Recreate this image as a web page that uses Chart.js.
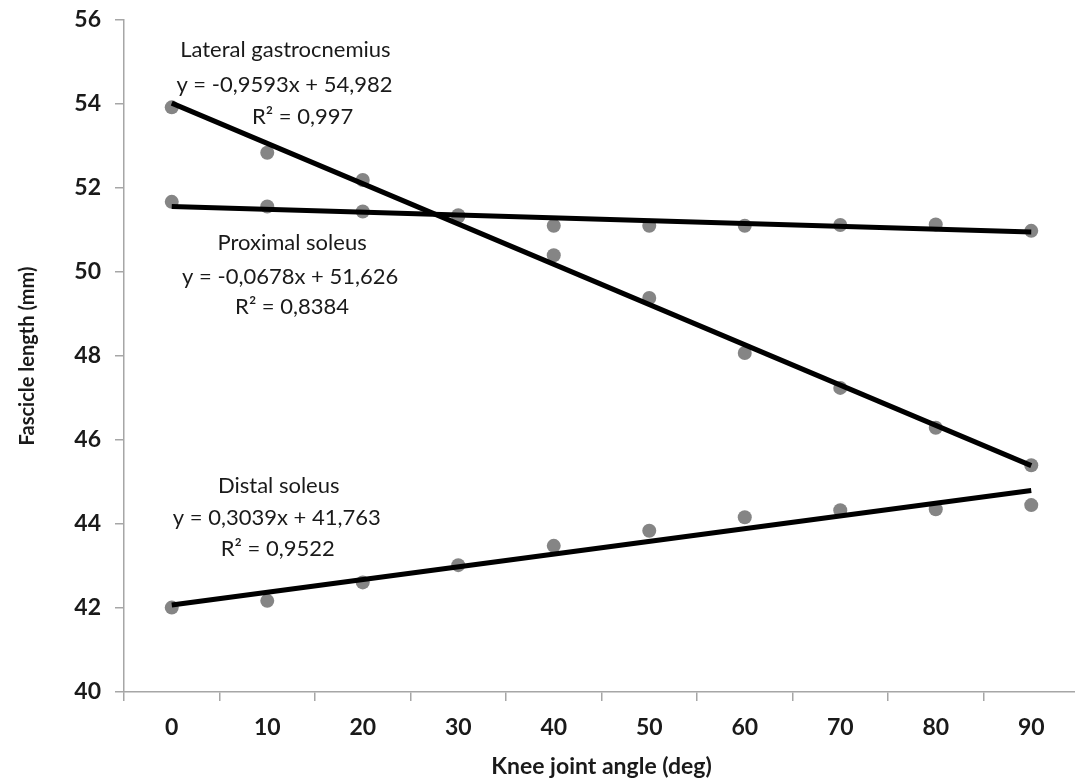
<!DOCTYPE html>
<html>
<head>
<meta charset="utf-8">
<script src="https://cdn.jsdelivr.net/npm/chart.js@4/dist/chart.umd.min.js"></script>
<style>
  html, body { margin: 0; padding: 0; background: #fff; overflow: hidden; }
  #wrap { width: 1086px; height: 783px; }
</style>
</head>
<body>
<div id="wrap"><canvas id="chart"></canvas></div>
<script>
// knee angle categories (deg)
var angles = ['0', '10', '20', '30', '40', '50', '60', '70', '80', '90']

var lateralGastroc = [53.92, 52.84, 52.19, 51.32, 50.40, 49.38, 48.07, 47.24, 46.29, 45.40]
var proximalSoleus = [51.67, 51.56, 51.44, 51.35, 51.10, 51.10, 51.10, 51.12, 51.13, 50.98]
var distalSoleus   = [42.01, 42.17, 42.61, 43.02, 43.48, 43.84, 44.16, 44.33, 44.35, 44.45]

// linear trend lines: value at first and last angle
var lateralTrend  = [54.02, 45.39]
var proximalTrend = [51.56, 50.95]
var distalTrend   = [42.07, 44.80]

var yTicks = [40, 42, 44, 46, 48, 50, 52, 54, 56]

var
    axisGray  = '#a6a6a6'
  , pointGray = '#858585'
  , textColor = '#1a1a1a'
  , fontName  = 'Lato, "Open Sans", sans-serif'

var trendData = function (ends) {
  return [
      { x: angles[0], y: ends[0] }
    , { x: angles[angles.length - 1], y: ends[1] }
  ]
}

var pointSet = function (values) {
  return {
      type            : 'line'
    , data            : values
    , showLine        : false
    , pointRadius     : 7
    , pointHoverRadius: 7
    , pointBackgroundColor : pointGray
    , pointBorderWidth: 0
    , borderColor     : pointGray
    , order           : 2
  }
}

var trendSet = function (ends) {
  return {
      type        : 'line'
    , data        : trendData(ends)
    , borderColor : '#000'
    , borderWidth : 5
    , pointRadius : 0
    , tension     : 0
    , order       : 1
  }
}

// equation labels, placed in axis units (category index, mm)
var notes = [
    { text: 'Lateral gastrocnemius',  at: [1.19, 55.29] }
  , { text: 'y = -0,9593x + 54,982',  at: [1.18, 54.45] }
  , { text: 'R\u00b2 = 0,997',        at: [1.37, 53.69] }
  , { text: 'Proximal soleus',        at: [1.26, 50.69] }
  , { text: 'y = -0,0678x + 51,626',  at: [1.24, 49.88] }
  , { text: 'R\u00b2 = 0,8384',       at: [1.26, 49.17] }
  , { text: 'Distal soleus',          at: [1.12, 44.90] }
  , { text: 'y = 0,3039x + 41,763',   at: [1.10, 44.14] }
  , { text: 'R\u00b2 = 0,9522',       at: [1.11, 43.40] }
]

var notePlugin = {
  id: 'notes',
  afterDatasetsDraw: function (chart) {
    var
        ctx = chart.ctx
      , xs  = chart.scales.x
      , ys  = chart.scales.y

    ctx.save()
    ctx.font = '22px ' + fontName
    ctx.fillStyle = textColor
    ctx.textAlign = 'center'
    ctx.textBaseline = 'middle'
    for (var i = 0; i < notes.length; i++) {
      ctx.fillText(notes[i].text, xs.getPixelForValue(notes[i].at[0]), ys.getPixelForValue(notes[i].at[1]))
    }
    ctx.restore()
  }
}

new Chart(document.getElementById('chart'), {
    type: 'line'
  , data: {
        labels: angles
      , datasets: [
            trendSet(lateralTrend)
          , trendSet(proximalTrend)
          , trendSet(distalTrend)
          , pointSet(lateralGastroc)
          , pointSet(proximalSoleus)
          , pointSet(distalSoleus)
        ]
    }
  , options: {
        responsive: true
      , maintainAspectRatio: false
      , animation: false
      , layout: { padding: { top: 20, right: 4, left: 0, bottom: 0 } }
      , plugins: {
            legend: { display: false }
          , tooltip: { enabled: false }
        }
      , scales: {
            x: {
                type: 'category'
              , offset: true
              , grid: {
                    offset: true
                  , drawOnChartArea: false
                  , color: axisGray
                  , tickLength: 9
                  , lineWidth: 1.5
                }
              , border: { color: axisGray, width: 1.5 }
              , ticks: {
                    color: textColor
                  , padding: 13
                  , font: { family: fontName, size: 23, weight: 'bold' }
                }
              , title: {
                    display: true
                  , text: 'Knee joint angle (deg)'
                  , color: textColor
                  , padding: { top: 0, bottom: 3 }
                  , font: { family: fontName, size: 23, weight: 'bold' }
                }
              , afterFit: function (scale) { scale.height = 91 }
            }
          , y: {
                min: 40
              , max: 56
              , afterBuildTicks: function (scale) {
                  scale.ticks = yTicks.map(function (v) { return { value: v } })
                }
              , grid: {
                    drawOnChartArea: false
                  , color: axisGray
                  , tickLength: 9
                  , lineWidth: 1.5
                }
              , border: { color: axisGray, width: 1.5 }
              , ticks: {
                    color: textColor
                  , padding: 14
                  , font: { family: fontName, size: 23, weight: 'bold' }
                }
              , title: {
                    display: true
                  , text: 'Fascicle length (mm)'
                  , color: textColor
                  , padding: { top: 16, bottom: 0 }
                  , font: { family: fontName, size: 20, weight: 'bold' }
                }
              , afterFit: function (scale) {
                  scale.width = 124
                  scale.paddingTop = 0
                  scale.paddingBottom = 0
                }
            }
        }
    }
  , plugins: [notePlugin]
})
</script>
</body>
</html>
